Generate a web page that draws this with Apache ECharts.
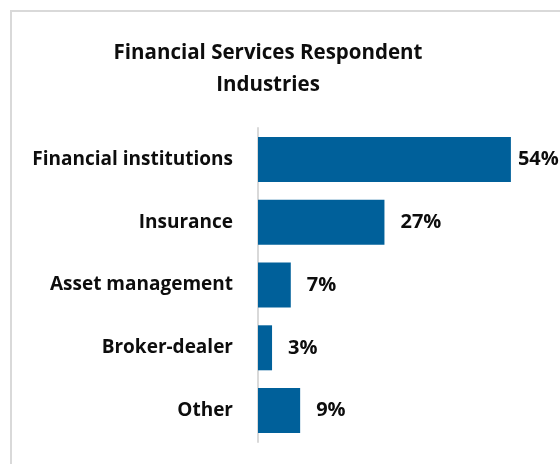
<!DOCTYPE html>
<html>
<head>
<meta charset="utf-8">
<style>
  html, body { margin: 0; padding: 0; background: #ffffff; }
  #chart { width: 560px; height: 464px; }
</style>
<script src="https://cdn.jsdelivr.net/npm/echarts@6/dist/echarts.min.js"></script>
</head>
<body>
<div id="chart"></div>
<script>
// Respondent industries, top to bottom
const industries = ['Financial institutions', 'Insurance', 'Asset management', 'Broker-dealer', 'Other'];
// Share of respondents (%)
const shares = [54, 27, 7, 3, 9];

const FONT = '"Open Sans", sans-serif';
const BAR_COLOR = '#00609A';

const chart = echarts.init(document.getElementById('chart'), null, { renderer: 'canvas' });

// Long bars get their value label tucked closer so it stays inside the frame
const barData = shares.map(v => ({
  value: v,
  label: { distance: v > 40 ? 7 : 16 }
}));

chart.setOption({
  animation: false,
  backgroundColor: '#ffffff',
  title: {
    text: 'Financial Services Respondent\nIndustries',
    left: 263,
    top: 32,
    textAlign: 'center',
    textStyle: {
      fontFamily: FONT,
      fontWeight: 'bold',
      fontSize: 20.5,
      lineHeight: 32,
      color: '#0d0d0d'
    }
  },
  graphic: [{
    type: 'rect',
    silent: true,
    shape: { x: 11, y: 11, width: 700, height: 600 },
    style: { fill: 'none', stroke: '#d9d9d9', lineWidth: 2 }
  }],
  grid: {
    left: 258,
    top: 128,
    height: 314,
    width: 281,
    containLabel: false
  },
  xAxis: {
    type: 'value',
    min: 0,
    max: 60,
    show: false
  },
  yAxis: {
    type: 'category',
    data: industries,
    inverse: true,
    axisLine: { show: true, lineStyle: { color: '#d9d9d9', width: 2 } },
    axisTick: { show: false },
    splitLine: { show: false },
    axisLabel: {
      margin: 25,
      fontFamily: FONT,
      fontWeight: 'bold',
      fontSize: 19,
      color: '#0d0d0d'
    }
  },
  series: [{
    type: 'bar',
    data: barData,
    barWidth: 45,
    itemStyle: { color: BAR_COLOR },
    label: {
      show: true,
      position: 'right',
      formatter: p => p.value + '%',
      fontFamily: FONT,
      fontWeight: 'bold',
      fontSize: 20,
      color: '#0d0d0d'
    }
  }]
});
</script>
</body>
</html>
